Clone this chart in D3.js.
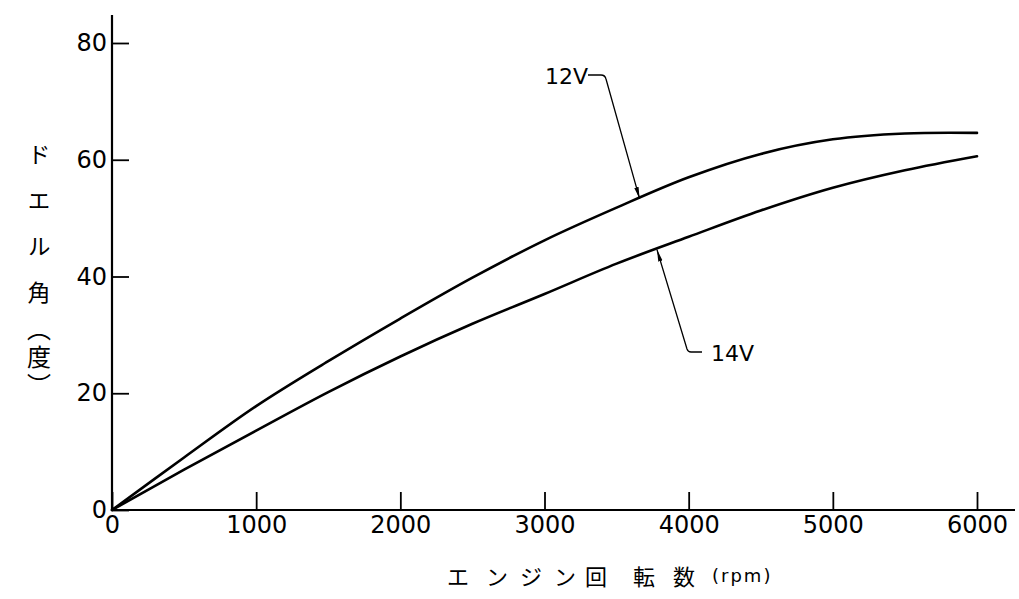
<!DOCTYPE html>
<html>
<head>
<meta charset="utf-8">
<script src="https://cdn.jsdelivr.net/npm/d3@7"></script>
<style>
  body { margin: 0; background: #fff; }
  svg { display: block; }
</style>
</head>
<body>
<div id="chart"></div>
<script>
// values (rpm -> dwell angle in degrees)
var rpm = [0, 500, 1000, 1500, 2000, 2500, 3000, 3500, 4000, 4500, 5000, 5500, 6000];
var dwell12 = [0, 9.0, 17.8, 25.5, 32.8, 39.8, 46.2, 51.8, 57.0, 61.0, 63.5, 64.5, 64.6];
var dwell14 = [0, 6.9, 13.6, 20.2, 26.3, 31.9, 37.0, 42.2, 46.8, 51.3, 55.2, 58.2, 60.6];
var xTicks = [0, 1000, 2000, 3000, 4000, 5000, 6000];
var yTicks = [0, 20, 40, 60, 80];

var width = 1019, height = 599;
var margin = {left: 112, top: 43, bottom: 89};

var svg = d3.select("#chart")
    .append("svg")
    .attr("width", width)
    .attr("height", height);

// scales
var x = d3.scaleLinear().domain([0, 6000]).range([margin.left, 977]);
var y = d3.scaleLinear().domain([0, 80]).range([height - margin.bottom, margin.top]);

var tickFont = "'DejaVu Sans', sans-serif";
var jpFont = "'Noto Sans CJK JP', sans-serif";

// x axis, ticks pointing up into the plot
var xAxis = svg.append("g")
    .attr("transform", "translate(0," + y(0) + ")")
    .call(d3.axisBottom(x).tickValues(xTicks).tickSizeInner(-18).tickSizeOuter(0).tickPadding(6).tickFormat(d3.format("d")));
xAxis.select(".domain").remove();
xAxis.selectAll(".tick line").attr("stroke-width", 1.8);
xAxis.selectAll("text")
    .attr("font-family", tickFont)
    .attr("font-size", 24)
    .attr("fill", "#000");

// y axis, ticks pointing right into the plot
var yAxis = svg.append("g")
    .attr("transform", "translate(" + x(0) + ",0)")
    .call(d3.axisLeft(y).tickValues(yTicks).tickSizeInner(-17).tickSizeOuter(0).tickPadding(5));
yAxis.select(".domain").remove();
yAxis.selectAll(".tick line").attr("stroke-width", 1.8);
yAxis.selectAll("text")
    .attr("font-family", tickFont)
    .attr("font-size", 24)
    .attr("fill", "#000");

// axis lines (they run past the last tick)
svg.append("line")
    .attr("x1", x(0)).attr("x2", x(0))
    .attr("y1", 15).attr("y2", y(0))
    .attr("stroke", "#000").attr("stroke-width", 2.2);
svg.append("line")
    .attr("x1", x(0)).attr("x2", 1015)
    .attr("y1", y(0)).attr("y2", y(0))
    .attr("stroke", "#000").attr("stroke-width", 2.2);

// curves
var line = d3.line()
    .x(function(d) { return x(d[0]); })
    .y(function(d) { return y(d[1]); })
    .curve(d3.curveCatmullRom.alpha(0.5));

[dwell12, dwell14].forEach(function(series) {
    svg.append("path")
        .attr("d", line(rpm.map(function(r, i) { return [r, series[i]]; })))
        .attr("fill", "none")
        .attr("stroke", "#000")
        .attr("stroke-width", 2.6)
        .attr("stroke-linejoin", "round")
        .attr("stroke-linecap", "round");
});

// leader arrows
svg.append("defs").append("marker")
    .attr("id", "arrow")
    .attr("viewBox", "0 0 12 6")
    .attr("refX", 12).attr("refY", 3)
    .attr("markerWidth", 12).attr("markerHeight", 6)
    .attr("markerUnits", "userSpaceOnUse")
    .attr("orient", "auto")
    .append("path")
    .attr("d", "M0,0.8 L12,3 L0,5.2 Z")
    .attr("fill", "#000");

function valueAt(series, r) {
    var i = d3.bisectRight(rpm, r) - 1;
    var t = (r - rpm[i]) / (rpm[i + 1] - rpm[i]);
    return series[i] + t * (series[i + 1] - series[i]);
}

// 12V label
var r12 = 3660;
svg.append("path")
    .attr("d", "M588,75 L601,75 Q605,75 606,79 L" + x(r12) + "," + (y(valueAt(dwell12, r12)) + 1))
    .attr("fill", "none").attr("stroke", "#000").attr("stroke-width", 1.3)
    .attr("marker-end", "url(#arrow)");
svg.append("text")
    .attr("x", 545).attr("y", 84)
    .attr("font-family", tickFont).attr("font-size", 22)
    .text("12V");

// 14V label
var r14 = 3780;
svg.append("path")
    .attr("d", "M702,352 L691,352 Q688,352 687,349 L" + x(r14) + "," + (y(valueAt(dwell14, r14)) + 1))
    .attr("fill", "none").attr("stroke", "#000").attr("stroke-width", 1.3)
    .attr("marker-end", "url(#arrow)");
svg.append("text")
    .attr("x", 711).attr("y", 361)
    .attr("font-family", tickFont).attr("font-size", 22)
    .text("14V");

// y axis title, written vertically
svg.append("text")
    .attr("x", 39).attr("y", 143)
    .attr("writing-mode", "vertical-rl")
    .attr("font-family", jpFont)
    .attr("font-size", 23)
    .attr("letter-spacing", 23)
    .text("ドエル角");
svg.append("text")
    .attr("x", 39).attr("y", 317)
    .attr("writing-mode", "vertical-rl")
    .attr("font-family", jpFont)
    .attr("font-size", 24)
    .attr("letter-spacing", 4)
    .text("（度）");

// x axis title
var xTitle = [["エ", 458], ["ン", 497], ["ジ", 531], ["ン", 565], ["回", 596], ["転", 644], ["数", 684]];
svg.selectAll("text.xtitle")
    .data(xTitle)
    .enter()
    .append("text")
    .attr("class", "xtitle")
    .attr("x", function(d) { return d[1]; })
    .attr("y", 575)
    .attr("text-anchor", "middle")
    .attr("dominant-baseline", "central")
    .attr("font-family", jpFont)
    .attr("font-size", 22)
    .text(function(d) { return d[0]; });
svg.append("text")
    .attr("x", 712).attr("y", 582)
    .attr("font-family", tickFont)
    .attr("font-size", 18)
    .attr("letter-spacing", 2)
    .text("(rpm)");
</script>
</body>
</html>
